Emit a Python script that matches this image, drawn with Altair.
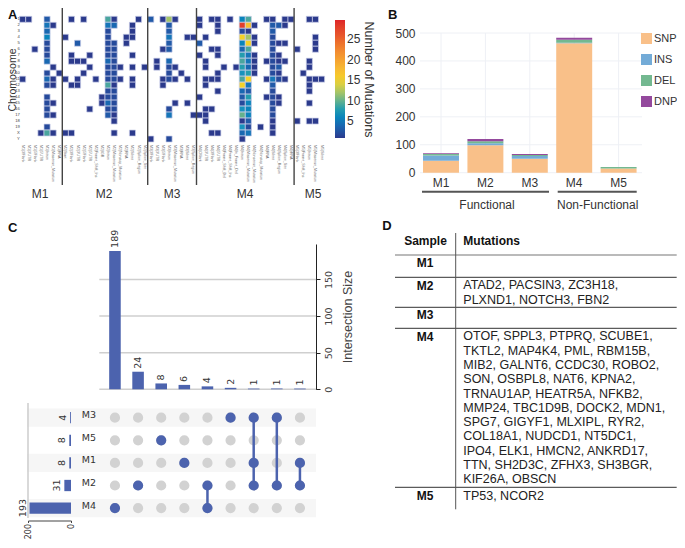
import altair as alt
import pandas as pd

# ---------- data: panel A ----------
sample_cols = {
    "M1": ["3'Flank", "3'UTR", "5'Flank", "5'UTR", "Intron", "Missense_Mutation", "RNA"],
    "M2": ["Start", "3'Flank", "3'UTR", "5'Flank", "5'UTR", "Frame_Shift_Ins", "IGR", "Intron",
           "Missense_Mutation", "Nonstop_Mutation", "RNA", "Silent", "Splice_Region", "Splice_Site"],
    "M3": ["3'Flank", "3'UTR", "5'Flank", "Intron", "Missense_Mutation", "RNA", "Silent", "Splice_Region"],
    "M4": ["CMark", "3'UTR", "3'Flank", "5'UTR", "Frame_Shift_Del", "Frame_Shift_Ins", "In_Frame_Del", "Intron",
           "Missense_Mutation", "Nonsense_Mutation", "Nonstop_Mutation", "RNA", "Silent", "Splice_Region",
           "Splice_Site", "tRNA"],
    "M5": ["3'Flank", "Frame_Shift_Ins", "Intron", "Missense_Mutation", "Silent"],
}
chromosomes = [str(i) for i in range(1, 20)] + ["X", "Y"]

# columns with a mutation, per chromosome (column index, left to right)
chr_columns = {
    "1": [0, 1, 4, 8, 10, 14, 15, 19, 21, 23, 24, 25, 29, 31, 32, 34, 36, 37, 40, 41, 43, 44, 47, 48],
    "2": [4, 5, 14, 15, 18, 24, 29, 32, 36, 37, 38, 41, 42, 43],
    "3": [4, 14, 18, 24, 32, 36, 37, 41],
    "4": [4, 7, 14, 17, 18, 24, 27, 28, 30, 36, 37, 38, 41, 48],
    "5": [4, 9, 14, 15, 17, 24, 29, 36, 37, 38, 41, 42, 43, 48],
    "6": [2, 4, 14, 15, 23, 24, 31, 32, 36, 37, 41, 45, 48],
    "7": [4, 8, 11, 14, 15, 18, 29, 32, 36, 37, 38, 41, 42],
    "8": [4, 8, 9, 10, 14, 15, 22, 24, 30, 36, 37, 38, 40, 41, 42, 43, 47],
    "9": [5, 11, 14, 15, 16, 18, 20, 22, 24, 25, 30, 33, 35, 36, 37, 38, 41, 42, 47],
    "10": [4, 6, 10, 14, 15, 24, 26, 32, 36, 37, 38, 41, 42, 46],
    "11": [0, 4, 5, 7, 9, 12, 14, 15, 16, 18, 23, 24, 25, 27, 30, 31, 32, 36, 37, 40, 41, 42, 43, 47, 48, 49],
    "12": [4, 5, 8, 9, 14, 15, 18, 23, 30, 36, 37, 41, 47],
    "13": [14, 15, 32, 36, 37, 41, 47],
    "14": [4, 13, 14, 15, 29, 36, 37, 40, 41, 42],
    "15": [4, 5, 13, 14, 15, 25, 27, 36, 37, 41, 42, 47],
    "16": [4, 11, 14, 15, 24, 30, 31, 36, 37, 41],
    "17": [4, 5, 14, 15, 24, 28, 29, 30, 36, 37, 41],
    "18": [15, 30, 36, 37, 41, 45, 47, 48],
    "19": [4, 36, 37, 39, 41],
    "X": [3, 4, 5, 7, 8, 15, 18, 31, 32, 36, 37, 41],
    "Y": [21, 24, 36],
}
# counts above 1, per column: {column: {chromosome: count}}
col_counts = {
    4: {"1": 3, "2": 5, "3": 4, "4": 6, "5": 2, "6": 2, "7": 2, "8": 4, "10": 2, "11": 4, "12": 2, "14": 2,
        "15": 2, "16": 2, "17": 2, "19": 2, "X": 9},
    9: {"5": 3},
    14: {"1": 9, "2": 5, "3": 2, "4": 2, "5": 2, "6": 2, "7": 2, "8": 4, "9": 2, "10": 2, "11": 2, "12": 9,
         "13": 2, "14": 2, "15": 4, "16": 2, "17": 3},
    15: {"2": 4, "5": 2, "6": 2, "7": 2, "8": 2, "9": 2, "10": 2, "11": 2, "13": 2, "14": 2, "15": 2, "16": 2},
    21: {"1": 3},
    24: {"1": 12, "2": 3, "3": 3, "4": 5, "5": 3, "6": 3, "8": 4, "9": 2, "10": 2, "11": 2, "16": 2, "17": 5, "Y": 2},
    29: {"5": 3},
    36: {"1": 6, "2": 28, "3": 2, "4": 15, "5": 6, "6": 4, "7": 8, "8": 9, "9": 8, "10": 7, "11": 9, "12": 15,
         "13": 4, "14": 3, "15": 2, "16": 7, "17": 10, "19": 7, "X": 4},
    37: {"1": 9, "2": 17, "4": 12, "5": 15, "6": 9, "7": 5, "8": 5, "9": 4, "10": 8, "11": 15, "12": 5, "13": 3,
         "14": 8, "15": 6, "16": 6, "17": 6, "18": 3, "19": 2, "X": 5},
    41: {"2": 3, "3": 3, "4": 2, "5": 2, "6": 2, "7": 2, "8": 2, "9": 2, "10": 2, "11": 5, "12": 3, "13": 2,
         "14": 2, "15": 2, "16": 2, "17": 2},
    42: {"2": 3, "9": 3, "11": 2},
}
# ---------- data: panel B ----------
samples = ["M1", "M2", "M3", "M4", "M5"]
variant_types = ["SNP", "INS", "DEL", "DNP"]
snp = [43, 98, 50, 463, 15]
ins = [19, 7, 10, 2, 0]
del_ = [5, 8, 3, 11, 5]
dnp = [3, 8, 4, 7, 0]
# ---------- data: panel C ----------
intersect_sizes = [189, 24, 8, 6, 4, 2, 1, 1, 1]
intersect_members = [["M4"], ["M2"], ["M5"], ["M1"], ["M2", "M4"], ["M3"],
                     ["M3", "M1", "M2"], ["M3", "M2"], ["M1", "M2"]]
set_names = ["M3", "M5", "M1", "M2", "M4"]
set_sizes = [4, 8, 8, 31, 193]
striped_sets = ["M3", "M1", "M4"]
upset_ticks = [0, 50, 100, 150]
# ---------- data: panel D ----------
table_samples = ["M1", "M2", "M3", "M4", "M5"]
table_mutations = [
    "",
    "ATAD2, PACSIN3, ZC3H18,\nPLXND1, NOTCH3, FBN2",
    "",
    "OTOF, SPPL3, PTPRQ, SCUBE1,\nTKTL2, MAP4K4, PML, RBM15B,\nMIB2, GALNT6, CCDC30, ROBO2,\n"
    "SON, OSBPL8, NAT6, KPNA2,\nTRNAU1AP, HEATR5A, NFKB2,\nMMP24, TBC1D9B, DOCK2, MDN1,\n"
    "SPG7, GIGYF1, MLXIPL, RYR2,\nCOL18A1, NUDCD1, NT5DC1,\nIPO4, ELK1, HMCN2, ANKRD17,\n"
    "TTN, SH2D3C, ZFHX3, SH3BGR,\nKIF26A, OBSCN",
    "TP53, NCOR2",
]

# ---------- layout helpers (page pixels -> chart pixels) ----------
W, H, M = 669, 532, 8
SANS, DJ = "Liberation Sans", "DejaVu Sans"


def note(t, x, y, size=12, angle=0, weight="normal", font=SANS, align="center", color="#333", baseline="middle",
         line_height=None):
    kw = dict(lineHeight=line_height, lineBreak="\n") if line_height else {}
    return alt.Chart(pd.DataFrame({"t": [t]})).mark_text(
        fontSize=size, angle=angle, fontWeight=weight, font=font, align=align, color=color, baseline=baseline, **kw
    ).encode(x=alt.value(x - M), y=alt.value(y - M), text="t:N")


def line(x1, y1, x2, y2, color="#333", w=1.0):
    return alt.Chart(pd.DataFrame({"a": [0]})).mark_rule(color=color, strokeWidth=w).encode(
        x=alt.value(x1 - M), x2=alt.value(x2 - M), y=alt.value(y1 - M), y2=alt.value(y2 - M))


layers = []

# ---------- panel A ----------
col_names = [f"{s}|{c}" for s, cs in sample_cols.items() for c in cs]
heat_rows = []
for chrom in chromosomes:
    for c in chr_columns[chrom]:
        heat_rows.append({"col": col_names[c], "chrom": chrom, "n": col_counts.get(c, {}).get(chrom, 1)})
heat = pd.DataFrame(heat_rows)

stops = [1, 3, 5, 7, 9, 11, 13, 15, 18, 22, 26, 29.6]
stop_colors = ["#2b3a8c", "#215aa8", "#1676b8", "#1792bd", "#4aa69e", "#8dbb7a", "#c4cb55", "#f4d228",
               "#f7b733", "#f28b30", "#e7552c", "#de2529"]
heat_x = alt.Scale(domain=col_names, range=[19.6 - M, 324.6 - M], paddingInner=0, paddingOuter=0)
heat_y = alt.Scale(domain=chromosomes, range=[16.3 - M, 142 - M], paddingInner=0, paddingOuter=0)
layers.append(
    alt.Chart(heat).mark_rect(stroke="#ccd0ea", strokeWidth=0.7).encode(
        x=alt.X("col:N", scale=heat_x, title=None, sort=col_names,
                axis=alt.Axis(orient="bottom", offset=143 - M - H, labelAngle=90, labelAlign="left",
                              labelBaseline="middle", labelFontSize=3.6, labelColor="#666", ticks=False, domain=False,
                              labelOverlap=False, labelPadding=1.5, labelLimit=0, values=col_names)),
        y=alt.Y("chrom:N", scale=heat_y, title=None, sort=chromosomes,
                axis=alt.Axis(orient="left", offset=-(19.6 - M), labelFontSize=4.2, labelColor="#444", ticks=False,
                              domain=False, labelOverlap=False, labelPadding=0.3)),
        color=alt.Color("n:Q", scale=alt.Scale(domain=stops, range=stop_colors),
                        legend=alt.Legend(orient="none", legendX=335 - M, legendY=20 - M, direction="vertical",
                                          gradientLength=118, gradientThickness=10, values=[5, 10, 15, 20, 25],
                                          title=None, labelFontSize=12, labelColor="#333", labelFont=SANS,
                                          gradientStrokeWidth=0)),
    ))
dividers = pd.DataFrame({"col": [col_names[7], col_names[21], col_names[29], col_names[45]]})
layers.append(alt.Chart(dividers).mark_rule(color="#444", strokeWidth=1.4).encode(
    x=alt.X("col:N", scale=heat_x, axis=None, bandPosition=0),
    y=alt.value(5 - M + 3), y2=alt.value(185 - M)))
layers.append(note("Chromosome", 8, 80, 10.5, 270, baseline="top"))
layers.append(note("Number of Mutations", 369, 79.5, 12.5, 90))
for lab, x in zip(samples, [40, 104, 172, 245, 313]):
    layers.append(note(lab, x, 194, 12))

# ---------- panel B ----------
bar_x = alt.Scale(domain=samples, range=[418.8 - M, 640.8 - M], paddingInner=0.19, paddingOuter=0.095)
bar_y = alt.Scale(domain=[0, 500], range=[172.7 - M, 33 - M])
bars = pd.DataFrame({
    "sample": samples * 4,
    "type": sum([[t] * 5 for t in variant_types], []),
    "rank": sum([[i] * 5 for i in range(4)], []),
    "n": snp + ins + del_ + dnp,
})
b_grid = pd.DataFrame({"v": [0, 100, 200, 300, 400, 500]})
layers.append(alt.Chart(b_grid).mark_rule(color="#eef0f5", strokeWidth=1).encode(
    y=alt.Y("v:Q", scale=bar_y, axis=None), x=alt.value(420 - M), x2=alt.value(642 - M)))
layers.append(alt.Chart(pd.DataFrame({"sample": samples})).mark_rule(color="#eef0f5", strokeWidth=1).encode(
    x=alt.X("sample:N", scale=bar_x, axis=None), y=alt.value(33 - M), y2=alt.value(172.7 - M)))
layers.append(alt.Chart(bars).mark_bar(opacity=0.95).encode(
    x=alt.X("sample:N", scale=bar_x, title=None, sort=samples,
            axis=alt.Axis(orient="bottom", offset=172.7 - M - H, ticks=False, domain=False, labelAngle=0,
                          labelFontSize=12, labelColor="#333", labelPadding=5, labelFont=SANS)),
    y=alt.Y("n:Q", stack="zero", scale=bar_y, title=None,
            axis=alt.Axis(orient="left", offset=-(418 - M), values=b_grid["v"].tolist(), ticks=False, domain=False,
                          labelFontSize=12, labelColor="#333", labelPadding=3, grid=False, labelFont=SANS)),
    order=alt.Order("rank:Q"),
    color=alt.Color("type:N",
                    scale=alt.Scale(domain=variant_types, range=["#f9bd83", "#6ca6d5", "#6cb48a", "#8e3f98"]),
                    legend=alt.Legend(orient="none", legendX=641 - M, legendY=33 - M, title=None, symbolType="square",
                                      symbolSize=121, symbolStrokeWidth=0, labelFontSize=11, labelColor="#333",
                                      labelFont=SANS, rowPadding=9, labelOffset=2)),
))
layers.append(line(422, 191.7, 549, 191.7, "#555", 2))
layers.append(line(557.7, 191.7, 636.7, 191.7, "#555", 2))
layers.append(note("Functional", 487, 205, 12))
layers.append(note("Non-Functional", 597.7, 205, 12))
layers.append(note("A", 8, 9, 13, weight="bold", color="#111", align="left", baseline="top"))
layers.append(note("B", 388, 9, 13, weight="bold", color="#111", align="left", baseline="top"))
layers.append(note("C", 8, 228, 13, weight="bold", color="#111", align="left"))
layers.append(note("D", 387, 226, 13, weight="bold", color="#111"))

# ---------- panel C ----------
ids = [f"i{k}" for k in range(len(intersect_sizes))]
ux = alt.Scale(domain=ids, range=[103.4 - M, 311.5 - M], paddingInner=0.5, paddingOuter=0.25)
uy = alt.Scale(domain=[0, 198.4], range=[389.3 - M, 244 - M])
my = alt.Scale(domain=set_names, range=[406.4 - M, 519.4 - M], paddingInner=0.19, paddingOuter=0.095)
my_bar = alt.Scale(domain=set_names, range=[406.4 - M, 519.4 - M], paddingInner=0.5, paddingOuter=0.25)
lx = alt.Scale(domain=[200, 0], range=[28 - M, 71 - M])
inter = pd.DataFrame({"id": ids, "n": intersect_sizes})

layers.append(alt.Chart(pd.DataFrame({"v": upset_ticks})).mark_rule(color="#cfcfcf", strokeWidth=1.4).encode(
    y=alt.Y("v:Q", scale=uy, axis=None), x=alt.value(99.3 - M), x2=alt.value(316 - M)))
layers.append(alt.Chart(inter).mark_bar(color="#4c63ae").encode(
    x=alt.X("id:N", scale=ux, axis=None, sort=ids),
    y=alt.Y("n:Q", scale=uy, title=None,
            axis=alt.Axis(orient="right", offset=316 - M - W, values=upset_ticks, labelAngle=270, labelAlign="center",
                          labelBaseline="top", labelFontSize=9.5, labelFont=DJ, labelColor="#444", domainColor="#222",
                          tickColor="#222", tickSize=4, grid=False, labelPadding=3)),
))
layers.append(alt.Chart(inter).mark_text(angle=270, align="left", baseline="middle", dx=3, fontSize=9.5, font=DJ,
                                         color="#333").encode(
    x=alt.X("id:N", scale=ux, axis=None, sort=ids),
    y=alt.Y("n:Q", scale=uy, axis=None), text="n:Q"))
layers.append(note("Intersection Size", 347.7, 317, 12.5, 270, color="#444"))

stripes = pd.DataFrame({"s": striped_sets})
layers.append(alt.Chart(stripes).mark_rect(color="#f6f6f6").encode(
    y=alt.Y("s:N", scale=my, axis=None, sort=set_names), x=alt.value(27 - M), x2=alt.value(316 - M)))
layers.append(line(28, 403, 28, 518, "#cccccc", 1.5))
grid_dots = pd.DataFrame([{"id": i, "s": s} for i in ids for s in set_names])
layers.append(alt.Chart(grid_dots).mark_point(filled=True, size=104, color="#d2d2d2", opacity=1).encode(
    x=alt.X("id:N", scale=ux, axis=None, sort=ids), y=alt.Y("s:N", scale=my, axis=None, sort=set_names)))
on_dots = pd.DataFrame([{"id": i, "s": s} for i, mem in zip(ids, intersect_members) for s in mem])
link_rows = []
for i, mem in zip(ids, intersect_members):
    if len(mem) > 1:
        link_rows.append({"id": i, "s": mem[0]})
        link_rows.append({"id": i, "s": mem[-1]})
link_long = pd.DataFrame(link_rows)
layers.append(alt.Chart(link_long).mark_line(color="#4c63ae", strokeWidth=2.5).encode(
    x=alt.X("id:N", scale=ux, axis=None, sort=ids), y=alt.Y("s:N", scale=my, axis=None, sort=set_names),
    detail="id:N"))
layers.append(alt.Chart(on_dots).mark_point(filled=True, size=104, color="#4c63ae", opacity=1).encode(
    x=alt.X("id:N", scale=ux, axis=None, sort=ids), y=alt.Y("s:N", scale=my, axis=None, sort=set_names)))

sets = pd.DataFrame({"s": set_names, "n": set_sizes})
layers.append(alt.Chart(sets).mark_bar(color="#4c63ae").encode(
    x=alt.X("n:Q", scale=lx, title=None,
            axis=alt.Axis(orient="bottom", offset=520.5 - M - H, values=[200, 0], labelAngle=270, labelAlign="right",
                          labelBaseline="middle", labelFontSize=8, labelFont=DJ, labelColor="#333", domainColor="#444",
                          tickColor="#444", tickSize=2, grid=False, labelPadding=1)),
    y=alt.Y("s:N", scale=my_bar, axis=None, sort=set_names)))
layers.append(alt.Chart(sets).mark_text(angle=270, align="center", baseline="bottom", dy=-2, fontSize=9.5, font=DJ,
                                        color="#333").encode(
    x=alt.X("n:Q", scale=lx, axis=None), y=alt.Y("s:N", scale=my_bar, axis=None, sort=set_names), text="n:Q"))
layers.append(alt.Chart(sets).mark_text(align="right", baseline="middle", dy=-2.5, fontSize=9.5, font=DJ,
                                        color="#333").encode(
    x=alt.value(96 - M), y=alt.Y("s:N", scale=my, axis=None, sort=set_names), text="s:N"))

# ---------- panel D ----------
layers.append(note("Sample", 425.5, 240.7, 12, weight="bold", color="#111"))
layers.append(note("Mutations", 463.3, 240.7, 12, weight="bold", color="#111", align="left"))
row_centres = [263.3, 285.7, 315, 336.7, 496]
for s, txt, y in zip(table_samples, table_mutations, row_centres):
    layers.append(note(s, 425, y, 12, weight="bold", color="#111"))
    if txt:
        layers.append(note(txt, 463.3, y - 6.5, 12.5, color="#222", align="left", baseline="top", line_height=14.33))
layers.append(line(395, 255, 676.7, 255, "#777", 1.2))
for y in [277.3, 307.3, 328.3, 487.3]:
    layers.append(line(395, y, 676.7, y, "#333", 1))
layers.append(line(455.7, 233, 455.7, 509.3, "#555", 1))

chart = (
    alt.layer(*layers)
    .resolve_scale(x="independent", y="independent", color="independent")
    .properties(width=W, height=H, padding=0, autosize=alt.AutoSizeParams(type="none"), background="white")
    .configure_view(stroke=None)
)
chart.save("out.html", embed_options={"renderer": "svg", "actions": False})
